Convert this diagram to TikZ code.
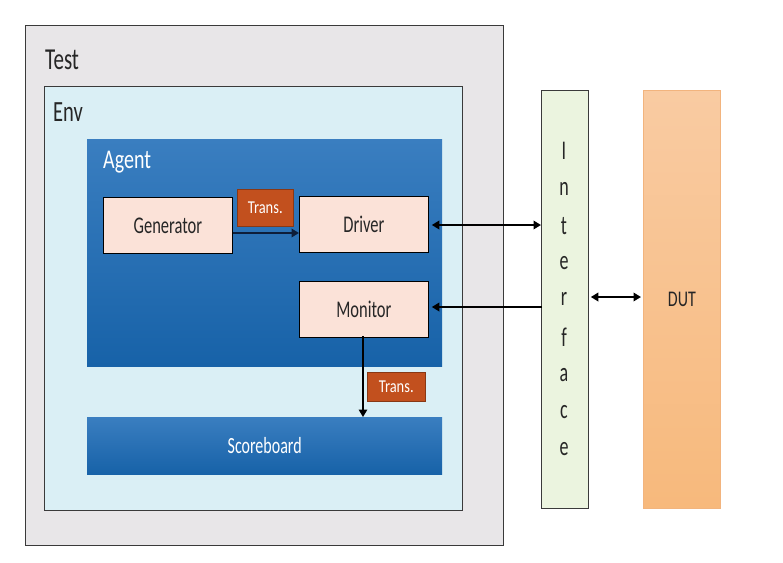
\documentclass[tikz,border=0pt]{standalone}
\usepackage{fontspec}
\usepackage{graphicx}
\setmainfont{Carlito}
\usetikzlibrary{arrows.meta,positioning}
\newcommand{\vs}[2][1.45]{\scalebox{1}[#1]{#2}}
\definecolor{testfill}{HTML}{E8E6E8}
\definecolor{envfill}{HTML}{DAEFF5}
\definecolor{bluetop}{HTML}{3A7EC0}
\definecolor{bluebot}{HTML}{1762A8}
\definecolor{peach}{HTML}{FBE2D8}
\definecolor{rust}{HTML}{C2501E}
\definecolor{iffill}{HTML}{EBF4DF}
\definecolor{duttop}{HTML}{F9CBA2}
\definecolor{dutbot}{HTML}{F7B97C}
\definecolor{dutdraw}{HTML}{F2B47E}
\definecolor{darkline}{HTML}{3A3A3A}
\definecolor{navy}{HTML}{0E1E3A}
\tikzset{
  mytip/.tip={Triangle[length=7.5pt,width=8.5pt]},
  frame/.style={draw=darkline, line width=1pt, anchor=north west, inner sep=0pt},
  bluebox/.style={anchor=north west, inner sep=0pt, top color=bluetop, bottom color=bluebot, draw=none},
  peachbox/.style={draw=black, line width=0.8pt, fill=peach, anchor=north west, inner sep=0pt, font=\fontsize{16.5}{18}\selectfont, text=black!85},
  transbox/.style={fill=rust, draw=rust!70!black, line width=0.5pt, anchor=north west, inner sep=0pt, text=white, font=\fontsize{14.5}{16}\selectfont},
  lbl/.style={anchor=west, inner sep=0pt},
  conn/.style={line width=2pt, black}
}
\begin{document}
\begin{tikzpicture}[x=1pt,y=-1pt]
\useasboundingbox (0,0) rectangle (783,562);
% Test
\node[frame, fill=testfill, minimum width=478pt, minimum height=520pt] (test) at (25,25) {};
\node[lbl, font=\fontsize{21}{24}\selectfont, text=black!85] (testl) at (45,60) {\vs{Test}};
% Env
\node[frame, fill=envfill, minimum width=418pt, minimum height=424pt] (env) at (44,86) {};
\node[lbl, font=\fontsize{20.5}{24}\selectfont, text=black!85] (envl) at (53,112) {\vs[1.43]{Env}};
% Agent
\node[bluebox, minimum width=355pt, minimum height=227pt] (agent) at (87,139) {};
\node[lbl, font=\fontsize{20}{24}\selectfont, text=white] (agentl) at (103,162) {\vs[1.35]{Agent}};
% Generator, Driver, Monitor
\node[peachbox, minimum width=129pt, minimum height=56pt] (gen) at (103,197) {\vs{Generator}};
\node[peachbox, minimum width=129pt, minimum height=56pt] (drv) at (299,196) {\vs{Driver}};
\node[peachbox, minimum width=129pt, minimum height=56pt] (mon) at (299,281) {\vs{Monitor}};
\node[transbox, minimum width=56pt, minimum height=37pt] (t1) at (237,189) {\vs[1.25]{Trans.}};
% Scoreboard
\node[bluebox, minimum width=355pt, minimum height=57pt, text=white, font=\fontsize{16}{20}\selectfont] (sb) at (87,417) {\vs{Scoreboard}};
\node[transbox, minimum width=58pt, minimum height=29pt] (t2) at (367,372) {\vs[1.25]{Trans.}};
% Interface
\node[draw=darkline, line width=0.8pt, fill=iffill, anchor=north west, inner sep=0pt, minimum width=47pt, minimum height=418pt] (intf) at (541,90) {};
\foreach \ch/\yy in {I/151,n/189,t/226,e/263,r/299,f/337,a/375,c/412,e/449}{
  \node[font=\fontsize{18}{20}\selectfont, text=black!85, inner sep=0pt] at (564,\yy) {\vs[1.5]{\ch}};
}
% DUT
\node[draw=dutdraw, line width=0.8pt, top color=duttop, bottom color=dutbot, anchor=north west, inner sep=0pt, minimum width=77pt, minimum height=418pt, font=\fontsize{16}{18}\selectfont, text=black!85] (dut) at (643,90) {\vs[1.4]{DUT}};
% Connectors
\draw[conn, navy, -{mytip}] (gen.east |- 0,233) -- (drv.west |- 0,233);
\draw[conn, {mytip}-{mytip}] ([xshift=3pt]drv.east |- 0,225) -- (intf.west |- 0,225);
\draw[conn, -{mytip}] ([xshift=1pt]intf.west |- 0,307) -- ([xshift=3pt]mon.east |- 0,307);
\draw[conn, {mytip}-{mytip}] ([xshift=2pt]intf.east |- 0,297) -- ([xshift=-2pt]dut.west |- 0,297);
\draw[line width=1.5pt, black, -{mytip}] (363,336) -- (sb.north -| 363,0);
\end{tikzpicture}
\end{document}
